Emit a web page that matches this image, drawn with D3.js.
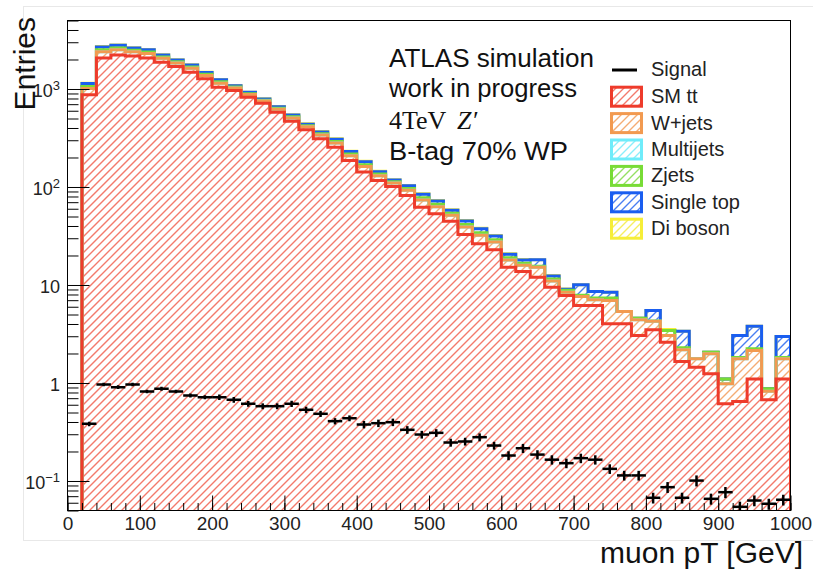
<!DOCTYPE html>
<html lang="en">
<head>
  <meta charset="UTF-8">
  <title>muon pT</title>
  <script src="https://d3js.org/d3.v7.min.js"></script>
  <style>
    body { margin: 0; background: #fff; }
    svg { display: block; font-family: "Liberation Sans", Arial, Helvetica, sans-serif; }
    .axis path { display: none; }
    .axis line { stroke: #000; }
    .axis text { font-size: 19px; fill: #222; font-family: "Liberation Sans", Arial, sans-serif; }
  </style>
</head>
<body>
  <svg width="813" height="572"></svg>

  <script>
    // bins of 20 GeV from 20 to 1000 GeV (the 0-20 bin is empty)
    const binEdges = d3.range(20, 1001, 20);

    const ttbar = [873, 2072, 2223, 2172, 2072, 1877, 1697, 1484, 1271, 1043,
      965, 825, 716, 580, 469, 383, 310, 255, 186, 142,
      116.5, 101, 81.9, 62.2, 53.3, 44.8, 32.8, 26.3, 22.9, 15.2,
      13.7, 12.0, 9.5, 7.81, 6.18, 6.18, 4.02, 4.02, 3.05, 3.49,
      2.61, 1.66, 1.45, 1.24, 0.614, 0.647, 1.10, 0.674, 1.10];
    const wjets = [137, 322, 295, 230, 229, 178, 144, 141, 106, 104,
      60, 52, 39, 42, 38, 29, 29, 27, 23, 20,
      14, 8.7, 10.8, 11.5, 9.7, 6.8, 6.3, 5.8, 4.5, 2.8,
      2.2, 3.2, 1.5, 0.63, 1.45, 0.88, 2.93, 1.34, 1.36, 0.78,
      0.44, 0.52, 0.32, 0.75, 0.367, 1.12, 1.05, 0.151, 0.67];
    const multijets = [0, 0, 0, 0, 0, 0, 0, 0, 0, 0,
      0, 0, 0, 0, 0, 0, 0, 0, 0, 0,
      0, 0, 0, 0, 0, 0, 0, 0, 0, 0,
      0, 0, 0, 0, 0, 0, 0, 0, 0, 0,
      0, 0, 0, 0, 0, 0, 0, 0, 0];
    const zjets = [49, 116, 106, 83, 82, 64, 52, 51, 38, 37,
      22, 18, 14, 15, 14, 10, 10, 10, 8, 7,
      5, 3.1, 3.9, 4.2, 3.5, 2.5, 2.3, 2.1, 1.6, 1.0,
      0.8, 0.3, 0.5, 0.4, 0.21, 0.31, 0.42, 0.02, 0.17, 0.02,
      0.38, 0.11, 0.01, 0.07, 0.12, 0.05, 0.09, 0.047, 0.05];
    const singletop = [76, 180, 165, 129, 128, 100, 81, 79, 60, 58,
      34, 29, 22, 23, 22, 16, 16, 15, 13, 12,
      8, 4.9, 6.1, 6.5, 5.5, 3.8, 3.6, 3.3, 2.6, 1.6,
      1.3, 2.6, 0.85, 0.2, 2.2, 1.21, 1.07, 0, 0, 1.2,
      0, 1.09, 0, 0, 0, 1.23, 1.56, 0, 1.16];
    const diboson = [11, 26, 24, 18, 18, 14, 12, 11, 9, 8,
      5, 4, 3, 3, 3, 3, 3, 3, 2, 2,
      1.5, 0.7, 0.9, 0.9, 0.8, 0.6, 0.5, 0.5, 0.4, 0.2,
      0.2, 0, 0.15, 0.05, 0, 0, 0, 0, 0, 0,
      0.08, 0, 0, 0, 0, 0, 0, 0, 0];

    const signal = [0.383, 0.965, 0.906, 0.965, 0.819, 0.873, 0.819, 0.746, 0.717, 0.717,
      0.674, 0.614, 0.580, 0.580, 0.614, 0.533, 0.485, 0.408, 0.437, 0.377,
      0.389, 0.398, 0.333, 0.298, 0.310, 0.247, 0.253, 0.280, 0.230, 0.182,
      0.216, 0.186, 0.165, 0.152, 0.171, 0.165, 0.133, 0.114, 0.114, 0.0674,
      0.0865, 0.0674, 0.101, 0.0658, 0.0769, 0.0545, 0.0632, 0.0585, 0.0643];
    const signalErr = [0.02, 0.04, 0.04, 0.04, 0.035, 0.04, 0.035, 0.035, 0.035, 0.045,
      0.045, 0.04, 0.04, 0.04, 0.045, 0.04, 0.035, 0.03, 0.03, 0.033,
      0.034, 0.035, 0.03, 0.027, 0.028, 0.023, 0.023, 0.026, 0.021, 0.019,
      0.023, 0.02, 0.018, 0.017, 0.019, 0.018, 0.015, 0.013, 0.013, 0.0085,
      0.011, 0.0085, 0.013, 0.0085, 0.01, 0.007, 0.008, 0.0075, 0.008];

    const yTickLabels = [
      { v: 0.1, base: '10', exp: '\u22121' },
      { v: 1, base: '1', exp: '' },
      { v: 10, base: '10', exp: '' },
      { v: 100, base: '10', exp: '2' },
      { v: 1000, base: '10', exp: '3' }
    ];
    const infoLines = ['ATLAS simulation', 'work in progress', '', 'B-tag 70% WP'];

    const bkg = [
      { key: 'tt', label: 'SM tt', color: '#ee3b2b', hatch: '#f37a6c', values: ttbar },
      { key: 'wj', label: 'W+jets', color: '#f29a50', hatch: '#f4ac74', values: wjets },
      { key: 'mj', label: 'Multijets', color: '#6fecfa', hatch: '#8aeefa', values: multijets },
      { key: 'zj', label: 'Zjets', color: '#78dc36', hatch: '#94e062', values: zjets },
      { key: 'st', label: 'Single top', color: '#1a5ef0', hatch: '#4a7ef2', values: singletop },
      { key: 'db', label: 'Di boson', color: '#f6ee38', hatch: '#f6ee60', values: diboson }
    ];

    const svg = d3.select('svg');
    const x = d3.scaleLinear().domain([0, 1000]).range([67.5, 790.5]);
    const y = d3.scaleLog().domain([0.05, 5000]).range([510.5, 20.5]);
    const yv = v => v > 0.05 ? y(v) : y(0.05) + 3;

    // pad border
    svg.append('rect')
      .attr('x', 23.5).attr('y', 6.5)
      .attr('width', 800).attr('height', 534)
      .attr('fill', 'none').attr('stroke', '#e8e8e8');

    const defs = svg.append('defs');
    defs.append('clipPath').attr('id', 'plot')
      .append('rect')
      .attr('x', x(0)).attr('y', y(5000))
      .attr('width', x(1000) - x(0)).attr('height', y(0.05) - y(5000));

    // "/" hatching, same phase everywhere so neighbouring bands line up
    let hatchD = '';
    for (let c = -520; c < 820; c += 8) {
      hatchD += `M${c},560 L${c + 560},0 `;
    }
    function hatch(g, clipId, color) {
      g.append('path')
        .attr('clip-path', `url(#${clipId})`)
        .attr('d', hatchD)
        .attr('fill', 'none')
        .style('stroke', color)
        .style('stroke-width', '1.4px');
    }

    // cumulative stack
    let cum = ttbar.map(() => 0);
    bkg.forEach(s => {
      s.lo = cum;
      s.hi = cum.map((c, i) => c + s.values[i]);
      cum = s.hi;
    });

    const plot = svg.append('g').attr('clip-path', 'url(#plot)');

    const area = d3.area()
      .x(d => x(d[0]))
      .y0(d => yv(d[1]))
      .y1(d => yv(d[2]));

    bkg.forEach(s => {
      const pts = [];
      s.hi.forEach((v, i) => {
        pts.push([binEdges[i], s.lo[i], v]);
        pts.push([binEdges[i + 1], s.lo[i], v]);
      });
      defs.append('clipPath').attr('id', 'band-' + s.key)
        .append('path').attr('d', area(pts));
      hatch(plot, 'band-' + s.key, s.hatch);
    });

    const line = d3.line().x(d => x(d[0])).y(d => yv(d[1]));
    bkg.slice().reverse().forEach(s => {
      const pts = [[binEdges[0], 0]];
      s.hi.forEach((v, i) => {
        pts.push([binEdges[i], v]);
        pts.push([binEdges[i + 1], v]);
      });
      pts.push([binEdges[binEdges.length - 1], 0]);
      plot.append('path')
        .attr('d', line(pts))
        .attr('fill', 'none')
        .attr('stroke', s.color)
        .attr('stroke-width', 3);
    });

    // signal points with error bars
    const sig = plot.append('g').attr('stroke', '#000').attr('stroke-width', 2.5);
    signal.forEach((v, i) => {
      const xc = x((binEdges[i] + binEdges[i + 1]) / 2);
      sig.append('line')
        .attr('x1', x(binEdges[i])).attr('x2', x(binEdges[i + 1]))
        .attr('y1', y(v)).attr('y2', y(v));
      sig.append('line')
        .attr('x1', xc).attr('x2', xc)
        .attr('y1', y(v - signalErr[i])).attr('y2', y(v + signalErr[i]));
    });

    // axes
    svg.append('g').attr('class', 'axis')
      .attr('transform', `translate(0, ${y(0.05)})`)
      .call(d3.axisBottom(x).tickValues(d3.range(0, 1001, 20)).tickSize(-7.5).tickFormat(''));
    svg.append('g').attr('class', 'axis')
      .attr('transform', `translate(0, ${y(0.05)})`)
      .call(d3.axisBottom(x).tickValues(d3.range(0, 1001, 100)).tickSize(-15).tickPadding(6).tickFormat(d3.format('d')));

    const decades = yTickLabels.map(d => d.v);
    svg.append('g').attr('class', 'axis')
      .attr('transform', `translate(${x(0)}, 0)`)
      .call(d3.axisLeft(y).tickValues(y.ticks().filter(v => !decades.includes(v))).tickSize(-11).tickFormat(''));
    svg.append('g').attr('class', 'axis')
      .attr('transform', `translate(${x(0)}, 0)`)
      .call(d3.axisLeft(y).tickValues(decades).tickSize(-22).tickFormat(''));

    const yl = svg.append('g').attr('font-size', 18).attr('fill', '#222');
    yTickLabels.forEach(d => {
      const t = yl.append('text')
        .attr('x', 60).attr('y', y(d.v) + 8.5)
        .attr('text-anchor', 'end');
      t.append('tspan').text(d.base);
      if (d.exp) {
        t.append('tspan').attr('font-size', 13).attr('dy', -7).text(d.exp);
      }
    });

    // frame
    svg.append('rect')
      .attr('x', x(0)).attr('y', y(5000))
      .attr('width', x(1000) - x(0)).attr('height', y(0.05) - y(5000))
      .attr('fill', 'none').attr('stroke', '#000').attr('stroke-width', 1);

    // titles
    svg.append('text')
      .attr('x', 803).attr('y', 563)
      .attr('text-anchor', 'end')
      .attr('font-size', 30).attr('fill', '#111')
      .text('muon pT [GeV]');
    svg.append('text')
      .attr('transform', 'translate(35, 17) rotate(-90)')
      .attr('text-anchor', 'end')
      .attr('font-size', 30).attr('fill', '#111')
      .text('Entries');

    // info text
    const infoY = [66.5, 97, 128.5, 160];
    const infoW = [205, 188, 0, 179];
    infoLines.forEach((s, i) => {
      if (!s) return;
      svg.append('text')
        .attr('x', 389).attr('y', infoY[i])
        .attr('font-size', 26).attr('fill', '#111')
        .attr('textLength', infoW[i]).attr('lengthAdjust', 'spacingAndGlyphs')
        .text(s);
    });
    const zt = svg.append('text')
      .attr('x', 389).attr('y', infoY[2])
      .attr('font-family', '"Liberation Serif", "Times New Roman", serif')
      .attr('font-size', 26).attr('fill', '#111');
    zt.append('tspan').text('4TeV');
    zt.append('tspan').attr('x', 457).attr('font-style', 'italic').text('Z\u2032');

    // legend
    const leg = svg.append('g').attr('font-size', 20).attr('fill', '#222');
    leg.append('line')
      .attr('x1', 612).attr('x2', 637)
      .attr('y1', 70).attr('y2', 70)
      .attr('stroke', '#000').attr('stroke-width', 3);
    leg.append('text').attr('x', 651).attr('y', 76).text('Signal');
    bkg.forEach((s, i) => {
      const cy = 96.7 + i * 26.4;
      defs.append('clipPath').attr('id', 'leg-' + s.key)
        .append('rect')
        .attr('x', 611.5).attr('y', cy - 9.5)
        .attr('width', 30).attr('height', 19);
      hatch(leg, 'leg-' + s.key, s.hatch);
      leg.append('rect')
        .attr('x', 611.5).attr('y', cy - 9.5)
        .attr('width', 30).attr('height', 19)
        .attr('fill', 'none')
        .attr('stroke', s.color).attr('stroke-width', 3);
      leg.append('text').attr('x', 651).attr('y', cy + 6.5).text(s.label);
    });
  </script>
</body>
</html>
